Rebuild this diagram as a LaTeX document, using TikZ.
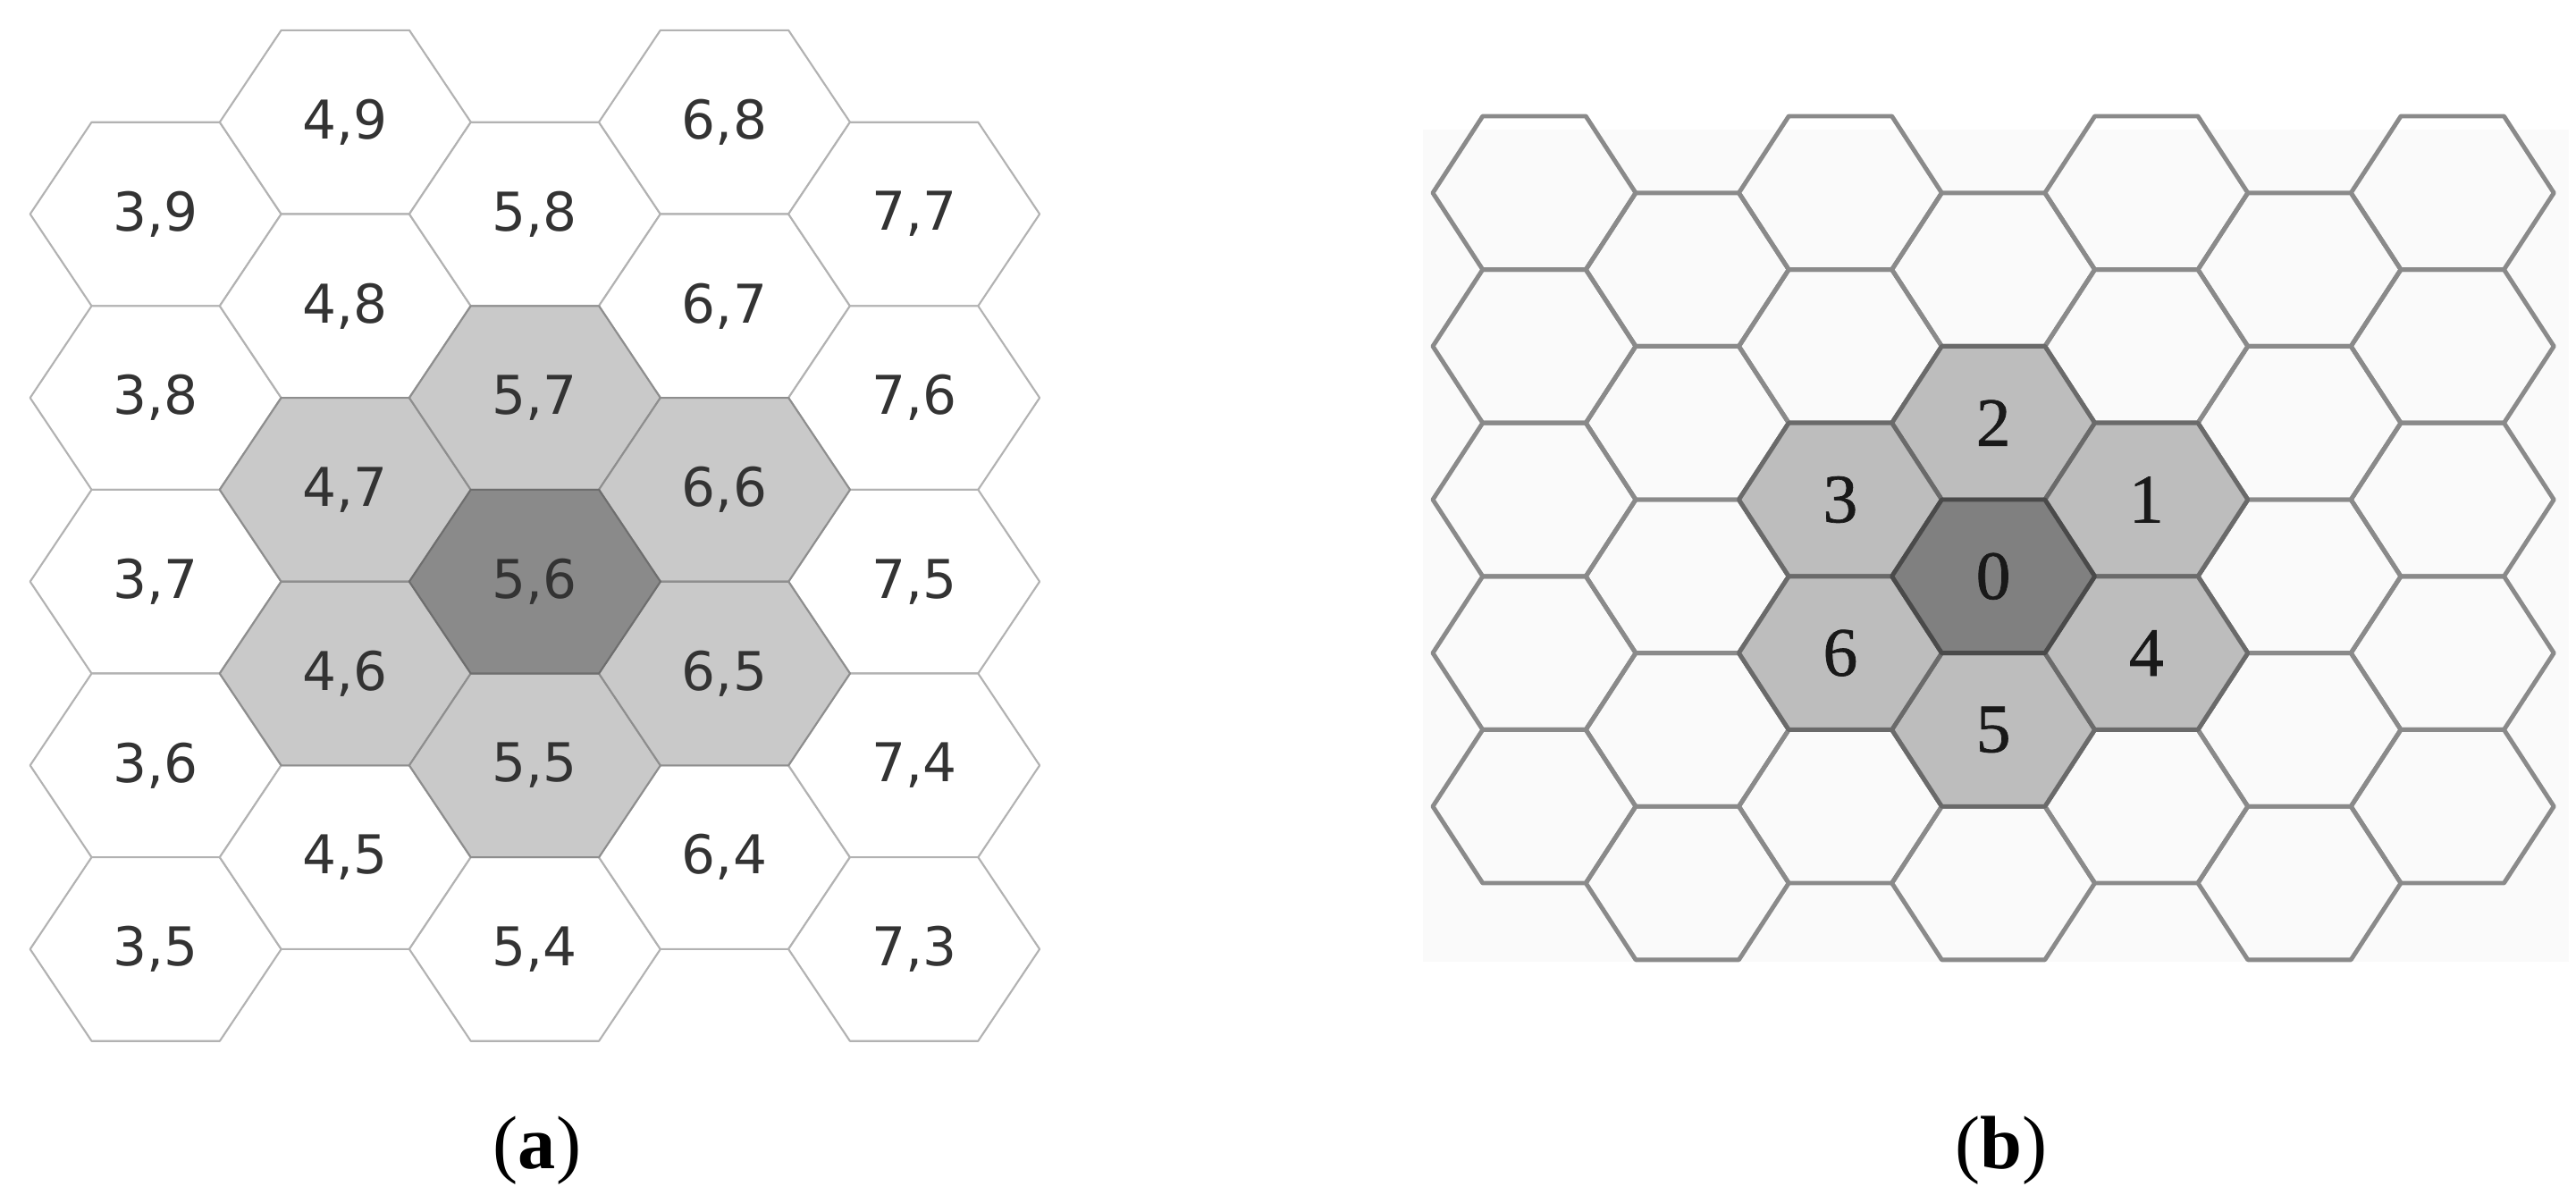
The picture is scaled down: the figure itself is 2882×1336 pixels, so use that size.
\documentclass[tikz,border=0pt]{standalone}
\usepackage{fontspec}
\setmainfont{Liberation Serif}
\newfontfamily\labfont{DejaVu Sans}
\newfontfamily\numfont[FakeBold=0.9]{Liberation Serif}
\definecolor{aline}{HTML}{B2B2B2}
\definecolor{alight}{HTML}{C9C9C9}
\definecolor{alightline}{HTML}{8E8E8E}
\definecolor{adark}{HTML}{8A8A8A}
\definecolor{adarkline}{HTML}{6E6E6E}
\definecolor{bline}{HTML}{8A8A8A}
\definecolor{blight}{HTML}{BDBDBD}
\definecolor{blightline}{HTML}{6A6A6A}
\definecolor{bdark}{HTML}{808080}
\definecolor{bdarkline}{HTML}{4A4A4A}
\definecolor{speck}{HTML}{FAFAFA}
\tikzset{
  hexa/.pic={\path[pic actions] (-140.5,0) -- (-71.7,-102.8) -- (71.7,-102.8) -- (140.5,0) -- (71.7,102.8) -- (-71.7,102.8) -- cycle;},
  hexb/.pic={\path[pic actions] (-113.5,0) -- (-57.7,-85.8) -- (57.7,-85.8) -- (113.5,0) -- (57.7,85.8) -- (-57.7,85.8) -- cycle;},
  awhite/.style={draw=aline, fill=white, line width=0.6pt, line join=round},
  alightcell/.style={draw=alightline, fill=alight, line width=0.6pt, line join=round},
  adarkcell/.style={draw=adarkline, fill=adark, line width=0.6pt, line join=round},
  bwhite/.style={draw=bline, line width=1.4pt, line join=round},
  blightcell/.style={draw=blightline, fill=blight, line width=1.4pt, line join=round},
  bdarkcell/.style={draw=bdarkline, fill=bdark, line width=1.4pt, line join=round},
  alab/.style={font=\labfont\fontsize{17}{17}\selectfont, text=black!80, inner sep=0pt},
  blab/.style={font=\numfont\fontsize{22}{22}\selectfont, text=black!90, inner sep=0pt},
  captext/.style={font=\fontsize{24}{24}\selectfont, anchor=base, inner sep=0pt}
}
\begin{document}
\begin{tikzpicture}[x=0.01cm,y=-0.01cm]
\useasboundingbox[fill=white] (0,0) rectangle (2882,1336);
% ---------------- panel (a) ----------------
\foreach \c in {3,...,7} {
  \pgfmathsetmacro\cx{174.2+(\c-3)*212.1}
  \pgfmathsetmacro\yz{136.7+102.8*mod(\c,2)}
  \foreach \k in {0,...,4} {
    \pic[awhite] at (\cx,{\yz+\k*205.6}) {hexa};
  }
}
% shaded neighbours
\pic[alightcell] at (386.3,547.9) {hexa};
\pic[alightcell] at (386.3,753.5) {hexa};
\pic[alightcell] at (598.4,445.1) {hexa};
\pic[alightcell] at (598.4,856.3) {hexa};
\pic[alightcell] at (810.5,547.9) {hexa};
\pic[alightcell] at (810.5,753.5) {hexa};
\pic[adarkcell] at (598.4,650.7) {hexa};
% labels
\foreach \c in {3,...,7} {
  \pgfmathsetmacro\cx{174.2+(\c-3)*212.1}
  \pgfmathsetmacro\yz{136.7+102.8*mod(\c,2)}
  \foreach \k in {0,...,4} {
    \pgfmathtruncatemacro\nn{9-\k-floor((\c-3)/2)}
    \node[alab] (a-\c-\nn) at (\cx,{\yz+\k*205.6}) {\c,\nn};
  }
}
% ---------------- panel (b) ----------------
\fill[speck] (1592,145) rectangle (2874,1076);
\foreach \c in {1,...,7} {
  \pgfmathsetmacro\cx{1716.5+(\c-1)*171.2}
  \pgfmathsetmacro\yz{215.8+85.8*(1-mod(\c,2))}
  \foreach \k in {0,...,4} {
    \pic[bwhite] at (\cx,{\yz+\k*171.6}) {hexb};
  }
}
\pic[blightcell] at (2230.1,473.2) {hexb};
\pic[blightcell] at (2230.1,816.4) {hexb};
\pic[blightcell] at (2058.9,559.0) {hexb};
\pic[blightcell] at (2058.9,730.6) {hexb};
\pic[blightcell] at (2401.3,559.0) {hexb};
\pic[blightcell] at (2401.3,730.6) {hexb};
\pic[bdarkcell] at (2230.1,644.8) {hexb};
\node[blab] (b0) at (2230.1,644.8) {0};
\node[blab] (b1) at (2401.3,559.0) {1};
\node[blab] (b2) at (2230.1,473.2) {2};
\node[blab] (b3) at (2058.9,559.0) {3};
\node[blab] (b4) at (2401.3,730.6) {4};
\node[blab] (b5) at (2230.1,816.4) {5};
\node[blab] (b6) at (2058.9,730.6) {6};
% ---------------- captions ----------------
\node[captext] (capa) at (601,1307) {(\textbf{a})};
\node[captext] (capb) at (2239,1307) {(\textbf{b})};
\end{tikzpicture}
\end{document}
